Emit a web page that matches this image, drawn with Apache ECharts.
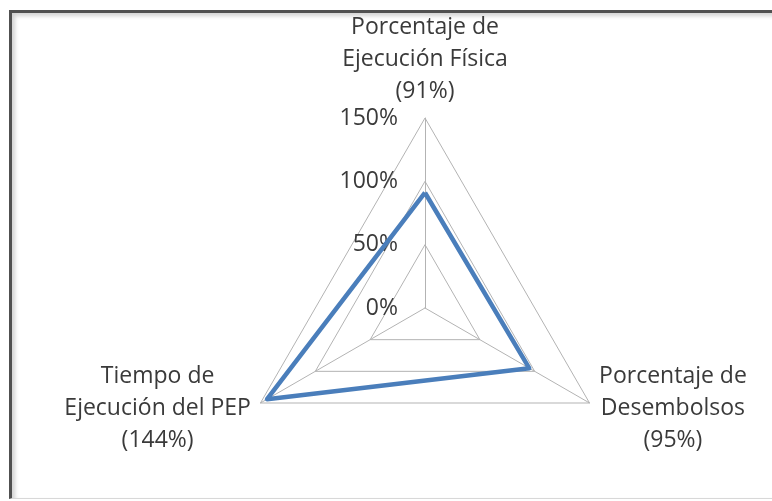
<!DOCTYPE html>
<html>
<head>
<meta charset="utf-8">
<script src="https://cdn.jsdelivr.net/npm/echarts@6/dist/echarts.min.js"></script>
<style>
  html, body { margin: 0; padding: 0; background: #fff; overflow: hidden; }
  #frame {
    position: absolute; left: 9px; top: 10px; width: 780px; height: 485px;
    border-top: 3px solid #505050; border-left: 3px solid #505050;
    border-bottom: 1px solid #d8d8d8;
    box-shadow: inset 3px 3px 4px rgba(0, 0, 0, 0.18);
  }
  #main { position: absolute; left: 0; top: 0; width: 772px; height: 501px; }
</style>
</head>
<body>
<div id="frame"></div>
<div id="main"></div>
<script>
// indicators go counterclockwise from the top
const indicatorNames = [
  'Porcentaje de\nEjecución Física\n(91%)',
  'Tiempo de\nEjecución del PEP\n(144%)',
  'Porcentaje de\nDesembolsos\n(95%)'
]
const seriesValues = [91, 144, 95]
const axisMax = 150
const tickStep = 50

const chart = echarts.init(document.getElementById('main'))

const textColor = '#3a3a3a'
const fontFamily = '"Open Sans", "Liberation Sans", sans-serif'

chart.setOption({
  animation: false,
  radar: {
    center: [425, 308],
    radius: 190,
    startAngle: 90,
    splitNumber: 3,
    shape: 'polygon',
    indicator: indicatorNames.map(name => ({ name: name, min: 0, max: axisMax })),
    axisName: {
      color: textColor,
      fontFamily: fontFamily,
      fontSize: 23,
      formatter: function (name) {
        return name.split('\n').map(s => '{c|' + s + '}').join('\n')
      },
      rich: {
        c: {
          align: 'center',
          color: textColor,
          fontFamily: fontFamily,
          fontSize: 23,
          lineHeight: 32
        }
      }
    },
    nameGap: 11,
    axisLine: { lineStyle: { color: '#b3b3b3', width: 1 } },
    splitLine: { lineStyle: { color: '#b3b3b3', width: 1 } },
    splitArea: { show: false },
    axisTick: { show: false },
    axisLabel: { show: false }
  },
  // polar only used for the tick labels along the top axis
  polar: {
    center: [425, 308],
    radius: 190
  },
  angleAxis: {
    type: 'value',
    startAngle: 90,
    show: false
  },
  radiusAxis: {
    type: 'value',
    min: 0,
    max: axisMax,
    interval: tickStep,
    axisLine: { show: false },
    axisTick: { show: false },
    splitLine: { show: false },
    axisLabel: {
      formatter: '{value}%',
      color: textColor,
      fontFamily: fontFamily,
      fontSize: 23,
      margin: 27
    }
  },
  series: [{
    type: 'radar',
    symbol: 'none',
    lineStyle: { color: '#4a7ebb', width: 4.5 },
    data: [{ value: seriesValues, name: 'Ejecución' }]
  }]
})
</script>
</body>
</html>
